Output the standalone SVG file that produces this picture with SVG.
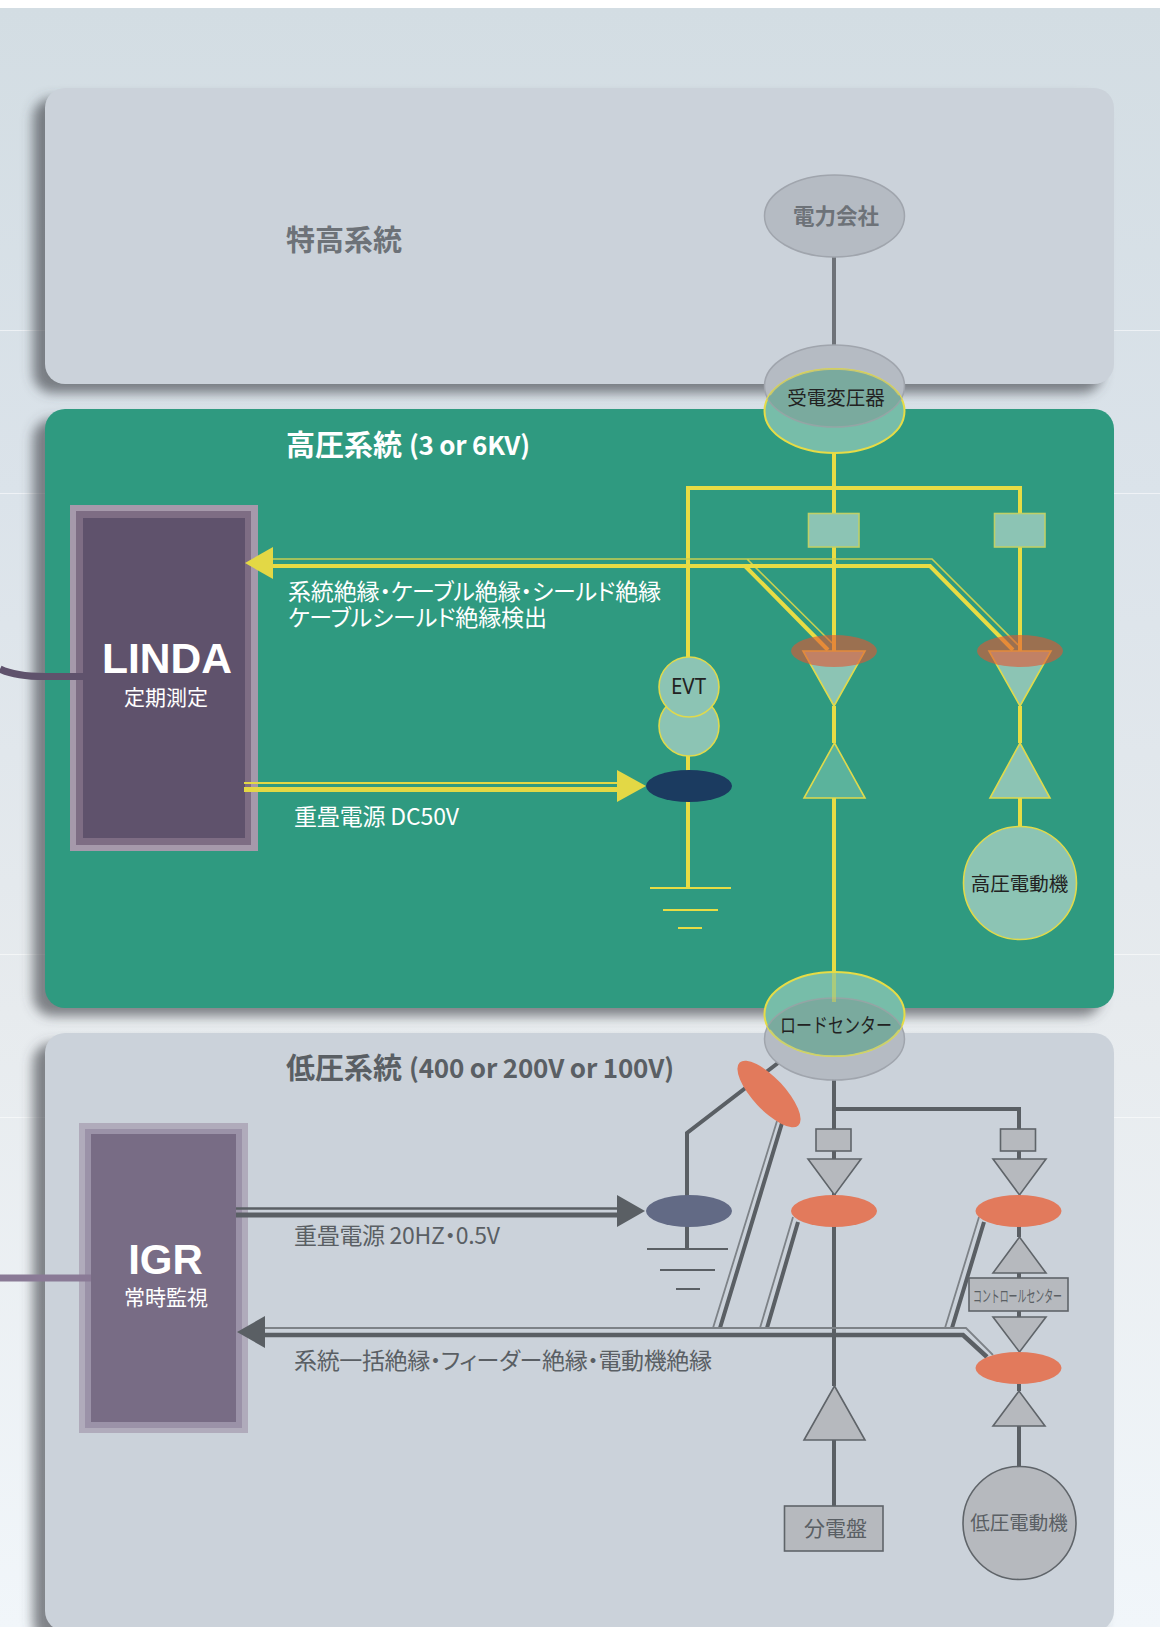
<svg xmlns="http://www.w3.org/2000/svg" width="1160" height="1627" viewBox="0 0 1160 1627">
<style>
text{font-family:"Noto Sans CJK JP","Noto Sans",sans-serif}
.lat{font-family:"Liberation Sans",Arial,sans-serif;font-weight:700;fill:#fff}
.head{font-size:29px;font-weight:700}
.sub{font-size:26px}
.lab{font-size:23px;font-feature-settings:"palt"}
.wht{fill:#fff}.gry{fill:#5a5f64}.mid{fill:#6d7278}.blk{fill:#222}
.node-g{fill:#8cc4b4;stroke:#e0da4c;stroke-width:1.6}
.node-b{fill:#8cc4b4;stroke:#bfd068;stroke-width:1.6}
.node-s{fill:#b6b9be;stroke:#5f6469;stroke-width:1.6}
.ell-g{fill:#b5bbc3;stroke:#a0a5ad;stroke-width:1.5}
.ell-y{fill:#77bda9;stroke:#e6dc46;stroke-width:2}
.ov{fill:#7aaa9e}
.hot{fill:#e45530;opacity:.6}
.or{fill:#e27a5c}
.y{fill:none;stroke:#e8dc44;stroke-width:4}
.yt{fill:none;stroke:#c8cf50;stroke-width:1.6}
.k{fill:none;stroke:#5a5f64;stroke-width:4}
.kt{fill:none;stroke:#7d8287;stroke-width:1.8}
.gl{fill:none;stroke-width:2}
</style>
<defs>
<linearGradient id="bg" x1="0" y1="0" x2="0" y2="1">
<stop offset="0" stop-color="#d3dde3"/><stop offset=".3" stop-color="#dbe3ea"/><stop offset=".62" stop-color="#e7ebee"/><stop offset="1" stop-color="#f1f6fa"/>
</linearGradient>
<filter id="sh" x="-10%" y="-10%" width="120%" height="120%"><feGaussianBlur stdDeviation="6"/></filter>
<clipPath id="c1"><ellipse cx="834.5" cy="411" rx="70" ry="42"/></clipPath>
<clipPath id="c2"><ellipse cx="834.5" cy="1014" rx="70" ry="42"/></clipPath>
</defs>
<rect width="1160" height="1627" fill="#fff"/>
<rect y="8" width="1160" height="1619" fill="url(#bg)"/>
<g stroke="#fff" stroke-opacity=".55" stroke-width="1"><path d="M0 330.500H1160M0 493.500H1160M0 954.500H1160M0 1117.500H1160"/></g>

<g id="panels">
<g fill="#4a4e54" fill-opacity=".68" filter="url(#sh)">
<rect x="33" y="98" width="1069" height="295" rx="20"/>
<rect x="33" y="419" width="1069" height="597" rx="20"/>
<rect x="33" y="1043" width="1069" height="600" rx="20"/>
</g>
<rect id="panel-top" x="45" y="88" width="1069" height="296" rx="20" fill="#cbd2da"/>
<rect id="panel-low" x="45" y="1033" width="1069" height="598" rx="20" fill="#cbd2da"/>
<rect id="panel-high" x="45" y="409" width="1069" height="599" rx="20" fill="#2f9a80"/>
<text class="head mid" x="286" y="251">特高系統</text>
<text class="head wht" x="286" y="456">高圧系統<tspan class="sub" x="409" y="455" textLength="121">(3 or 6KV)</tspan></text>
<text class="head gry" x="286" y="1079">低圧系統<tspan class="sub" x="409" y="1078" textLength="265">(400 or 200V or 100V)</tspan></text>
</g>

<g id="LINDA">
<rect x="70" y="505" width="188" height="346" fill="#a699ab"/>
<rect x="76" y="511" width="175" height="334" fill="#7e6d84"/>
<rect x="83" y="518" width="162" height="320" fill="#5f526c"/>
<path d="M84 676.500H45C25 676.500 10 674 0 669" fill="none" stroke="#5f526c" stroke-width="7"/>
<text class="lat" x="167" y="673" font-size="42.600" text-anchor="middle">LINDA</text>
<text class="wht" x="166" y="705" font-size="21" text-anchor="middle">定期測定</text>
</g>
<g id="IGR">
<rect x="79" y="1123" width="169" height="310" fill="#b0abbb"/>
<rect x="85" y="1129" width="157" height="299" fill="#9b92a8"/>
<rect x="91" y="1134" width="145" height="288" fill="#786c85"/>
<path d="M0 1278H91" fill="none" stroke="#8a7a96" stroke-width="7"/>
<text class="lat" x="165.500" y="1274" font-size="42" text-anchor="middle">IGR</text>
<text class="wht" x="166" y="1305" font-size="21" text-anchor="middle">常時監視</text>
</g>

<g id="connectors">
<path class="k" style="stroke:#6e7278" d="M834 257V345"/>
<path class="y" d="M834 453V651M834 706V743M834 798V972M688 657V488H1020V651M1020 706V743M1020 798V827"/>
<path class="y" d="M688 756V888"/>
<path class="gl" stroke="#e8dc44" d="M650 888H731M663 910H718M678 928H702"/>
<path class="yt" d="M273 559H932L1018 645M747 559L832 643"/>
<path class="y" d="M273 566H930L1013 650M745 566L828 650"/>
<polygon fill="#e3d845" points="245,563 273,547 273,579"/>
<path fill="none" stroke="#e3d845" stroke-width="2" d="M244 783H620"/>
<path fill="none" stroke="#e3d845" stroke-width="5" d="M244 789.500H620"/>
<polygon fill="#e3d845" points="646,786 617,770 617,802"/>
<path class="k" d="M834 1079V1386M834 1440V1506M834 1109H1019V1129M1019 1151V1159M1019 1195V1237M1019 1273V1278M1019 1311V1317M1019 1384V1391M1019 1426V1467"/>
<path class="k" d="M778 1063L687 1133V1249"/>
<path class="gl" stroke="#5a5f64" d="M647 1249H728M660 1270H715M676 1289H700"/>
<path class="kt" d="M777 1121L713 1328M793 1217L760 1328M979 1217L945 1328"/>
<path class="k" d="M782 1123L720 1328M798 1222L767 1328M984 1222L952 1328"/>
<path class="kt" d="M265 1328H966L993 1355"/>
<path class="k" style="stroke-width:4.500" d="M265 1335H963L987 1357"/>
<polygon fill="#5a5f64" points="237,1332 265,1316 265,1348"/>
<path fill="none" stroke="#5a5f64" stroke-width="2.500" d="M236 1208.500H620"/>
<path fill="none" stroke="#5a5f64" stroke-width="5" d="M236 1215H620"/>
<polygon fill="#5a5f64" points="645,1211 617,1195 617,1227"/>
</g>

<g id="labels">
<text class="lab wht"><tspan x="288" y="600" textLength="373">系統絶縁・ケーブル絶縁・シールド絶縁</tspan><tspan x="288" y="626" textLength="259">ケーブルシールド絶縁検出</tspan></text>
<text class="lab wht" x="294" y="825" textLength="165">重畳電源 DC50V</text>
<text class="lab gry" x="294" y="1244" textLength="206">重畳電源 20HZ・0.5V</text>
<text class="lab gry" x="294" y="1369" textLength="418">系統一括絶縁・フィーダー絶縁・電動機絶縁</text>
</g>

<g id="power-company"><ellipse class="ell-g" cx="834.500" cy="216" rx="70" ry="41"/><text class="mid" x="836" y="224" font-size="21.500" text-anchor="middle" font-weight="700">電力会社</text></g>
<g id="transformer">
<ellipse class="ell-g" cx="834.500" cy="386" rx="70" ry="41"/>
<ellipse class="ell-y" cx="834.500" cy="411" rx="70" ry="42"/>
<ellipse class="ov" cx="834.500" cy="386" rx="70" ry="41" clip-path="url(#c1)"/>
<ellipse cx="834.500" cy="386" rx="70" ry="41" fill="none" stroke="#94a5a5" stroke-width="1.500" clip-path="url(#c1)"/>
<path d="M834.500 369A70 42 0 0 0 770 395M834.500 369A70 42 0 0 1 899 395" fill="none" stroke="#c8c870" stroke-width="1.500"/>
<text class="blk" x="836" y="405" font-size="19.500" text-anchor="middle">受電変圧器</text>
</g>
<g id="breaker-1"><rect class="node-b" x="808.500" y="513.500" width="50.500" height="33.500"/></g>
<g id="breaker-2"><rect class="node-b" x="994.500" y="513.500" width="50.500" height="33.500"/></g>
<g id="ct-1"><polygon class="node-g" points="803,651 865,651 834,706"/><ellipse class="hot" cx="834" cy="651" rx="43" ry="16"/></g>
<g id="ct-2"><polygon class="node-g" points="989,651 1051,651 1020,706"/><ellipse class="hot" cx="1020" cy="651" rx="43" ry="16"/></g>
<g id="tri-1"><polygon class="node-g" style="fill:#5bb39c" points="804,798 865,798 834.500,743"/></g>
<g id="tri-2"><polygon class="node-g" points="990,798 1050,798 1020,743"/></g>
<g id="hv-motor"><circle class="node-g" cx="1020" cy="883" r="56.500"/><text class="blk" x="1019.500" y="891" font-size="19.500" text-anchor="middle">高圧電動機</text></g>
<g id="evt"><circle class="node-g" cx="689" cy="726" r="30"/><circle class="node-g" cx="689" cy="687" r="30"/><text class="blk" x="671" y="694" font-size="21" textLength="35" lengthAdjust="spacingAndGlyphs" style="font-family:'Noto Sans',sans-serif">EVT</text></g>
<g id="inject-high"><ellipse cx="689" cy="786" rx="43" ry="16" fill="#1b3b60"/></g>

<g id="load-center">
<ellipse class="ell-g" cx="834.500" cy="1039" rx="70" ry="41"/>
<ellipse class="ell-y" cx="834.500" cy="1014" rx="70" ry="42"/>
<ellipse class="ov" cx="834.500" cy="1039" rx="70" ry="41" clip-path="url(#c2)"/>
<ellipse cx="834.500" cy="1039" rx="70" ry="41" fill="none" stroke="#94a5a5" stroke-width="1.500" clip-path="url(#c2)"/>
<path d="M834 973V1002" stroke="#e8dc44" stroke-width="4" stroke-opacity=".45" fill="none"/>
<path d="M770 1030A70 42 0 0 0 834.500 1056A70 42 0 0 0 899 1030" fill="none" stroke="#c8d070" stroke-width="1.500"/>
<text class="blk" x="780" y="1033" font-size="20" textLength="112" lengthAdjust="spacingAndGlyphs">ロードセンター</text>
</g>
<g id="ct-tilted"><ellipse class="or" cx="769" cy="1094" rx="43" ry="16" transform="rotate(47 769 1094)"/></g>
<g id="inject-low"><ellipse cx="689" cy="1211" rx="43" ry="16" fill="#626a85"/></g>
<g id="lv-breaker-1"><rect class="node-s" x="816" y="1129" width="35" height="22"/></g>
<g id="lv-breaker-2"><rect class="node-s" x="1000.500" y="1129" width="35" height="22"/></g>
<g id="lv-tri-1"><polygon class="node-s" points="808,1159 861,1159 834.500,1195"/><ellipse class="or" cx="834" cy="1211" rx="43" ry="16"/></g>
<g id="lv-tri-2"><polygon class="node-s" points="993,1159 1046,1159 1019.500,1195"/><ellipse class="or" cx="1018.500" cy="1211" rx="43" ry="16"/></g>
<g id="lv-tri-3"><polygon class="node-s" points="993,1273 1046,1273 1019.500,1237"/></g>
<g id="control-center"><rect class="node-s" x="969" y="1278" width="99" height="33"/><text class="gry" x="973" y="1302" font-size="16" textLength="89" lengthAdjust="spacingAndGlyphs">コントロールセンター</text></g>
<g id="lv-tri-4"><polygon class="node-s" points="993,1317 1046,1317 1019.500,1352"/><ellipse class="or" cx="1018.500" cy="1368" rx="43" ry="16"/></g>
<g id="lv-tri-5"><polygon class="node-s" points="993,1426 1045,1426 1019,1391"/></g>
<g id="lv-tri-6"><polygon class="node-s" points="804,1440 865,1440 834.500,1386"/></g>
<g id="panelboard"><rect class="node-s" x="784.500" y="1506" width="98.500" height="45"/><text class="gry" x="804" y="1536" font-size="21">分電盤</text></g>
<g id="lv-motor"><circle class="node-s" cx="1019.500" cy="1523" r="56.500"/><text class="gry" x="1019" y="1530" font-size="19.500" text-anchor="middle">低圧電動機</text></g>
</svg>
